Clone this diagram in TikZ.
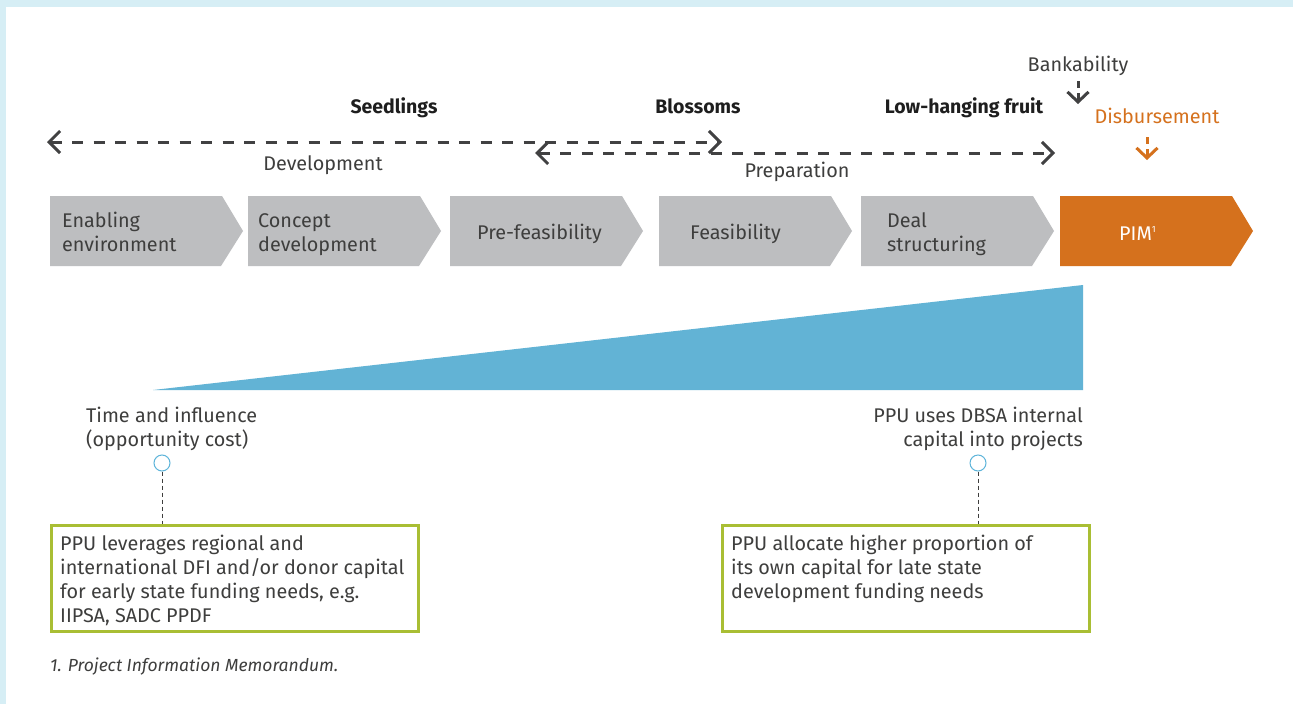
\documentclass[tikz,border=0pt]{standalone}
\usepackage{fontspec}
\setmainfont{Fira Sans}
\usetikzlibrary{arrows.meta}
\definecolor{bgblue}{HTML}{D6EEF5}
\definecolor{chevgray}{HTML}{BDBEC0}
\definecolor{pimorange}{HTML}{D5711D}
\definecolor{txtgray}{HTML}{3E3E3D}
\definecolor{arrowgray}{HTML}{414142}
\definecolor{darktxt}{HTML}{1E1E1E}
\definecolor{wedgeblue}{HTML}{62B3D5}
\definecolor{boxgreen}{HTML}{A9BE34}
\definecolor{circblue}{HTML}{5DB4DA}
\begin{document}
\begin{tikzpicture}[x=1pt,y=-1pt,
  every node/.style={font=\fontsize{19.8}{24}\selectfont, text=txtgray, inner sep=0pt},
  chevtext/.style={align=left, anchor=base west},
  bigdash/.style={draw=arrowgray, line width=3pt, dash pattern=on 11pt off 10.5pt, {Straight Barb[length=11pt,width=22pt,line width=3pt]}-{Straight Barb[length=11pt,width=22pt,line width=3pt]}},
  smalldown/.style={line width=3pt, dash pattern=on 7pt off 5pt, -{Straight Barb[length=10pt,width=21pt,line width=3pt]}},
  phase/.style={font=\fontsize{19.5}{24}\selectfont\bfseries, text=darktxt, anchor=base},
  lbl/.style={anchor=base},
  greenbox/.style={draw=boxgreen, line width=2.6pt, fill=white},
  ring/.style={circle, draw=circblue, line width=1pt, minimum size=16pt, fill=white},
  connector/.style={draw=txtgray, line width=1pt, dash pattern=on 4pt off 3pt}
]
\useasboundingbox (0,0) rectangle (1293,704);
% background frame
\fill[bgblue] (0,0) rectangle (1293,704);
\fill[white] (6,7) rectangle (1293,704);

% chevrons
\foreach \xx in {50,248,450,659,861}{
  \fill[chevgray] (\xx,196) -- (\xx+172,196) -- (\xx+193,231) -- (\xx+171,266) -- (\xx,266) -- cycle;
}
\fill[pimorange] (1060,196) -- (1232,196) -- (1253,231) -- (1231,266) -- (1060,266) -- cycle;

\node[chevtext] (c1) at (62,251) {Enabling\\environment};
\node[chevtext] (c2) at (258,251) {Concept\\development};
\node[chevtext] (c3) at (477,239) {Pre-feasibility};
\node[chevtext] (c4) at (690,239) {Feasibility};
\node[chevtext] (c5) at (887,251) {Deal\\structuring};
\node[anchor=base west, text=white] (c6) at (1119,240) {PIM\textsuperscript{\fontsize{9}{9}\selectfont 1}};

% dashed phase arrows
\coordinate (d1l) at (47,142);
\coordinate (d1r) at (722,142);
\coordinate (d2l) at (535,153);
\coordinate (d2r) at (1055,153);
\draw[bigdash] (d1l) -- (d1r);
\draw[bigdash] (d2l) -- (d2r);

\node[lbl] (dev) at (323,170) {Development};
\node[lbl] (prep) at (797,177) {Preparation};
\node[phase] (seed) at (394,113) {Seedlings};
\node[phase] (bloss) at (698,113) {Blossoms};
\node[phase] (lhf) at (964,113) {Low-hanging fruit};

\node[lbl] (bank) at (1078,71) {Bankability};
\coordinate (bankA) at (1078,81);
\coordinate (bankB) at (1078,104);
\draw[smalldown, draw=arrowgray] (bankA) -- (bankB);
\node[lbl, text=pimorange] (disb) at (1157,123) {Disbursement};
\coordinate (disbA) at (1147,137);
\coordinate (disbB) at (1147,160);
\draw[smalldown, draw=pimorange] (disbA) -- (disbB);

% wedge
\fill[wedgeblue] (153,390) -- (1083,285) -- (1083,390) -- cycle;

\node[align=left, anchor=base west] (tinf) at (86,446) {Time and influence\\(opportunity cost)};
\node[align=right, anchor=base east] (ppuuse) at (1083,446) {PPU uses DBSA internal\\capital into projects};

\node[ring] (r1) at (162,463) {};
\node[ring] (r2) at (978,463) {};

\node[greenbox, minimum width=367pt, minimum height=106pt, anchor=north west] (b1) at (50,524) {};
\node[greenbox, minimum width=367pt, minimum height=106pt, anchor=north west] (b2) at (721,524) {};
\node[align=left, anchor=base west] (b1t) at (60,622) {PPU leverages regional and\\international DFI and/or donor capital\\for early state funding needs, e.g.\\IIPSA, SADC PPDF};
\node[align=left, anchor=base west] (b2t) at (731,598) {PPU allocate higher proportion of\\its own capital for late state\\development funding needs};

\draw[connector] (r1.south) -- (r1.south |- b1.north);
\draw[connector] (r2.south) -- (r2.south |- b2.north);

\node[anchor=base west, font=\fontsize{17.5}{20}\selectfont\itshape] (foot) at (50,671) {1. Project Information Memorandum.};
\end{tikzpicture}
\end{document}
